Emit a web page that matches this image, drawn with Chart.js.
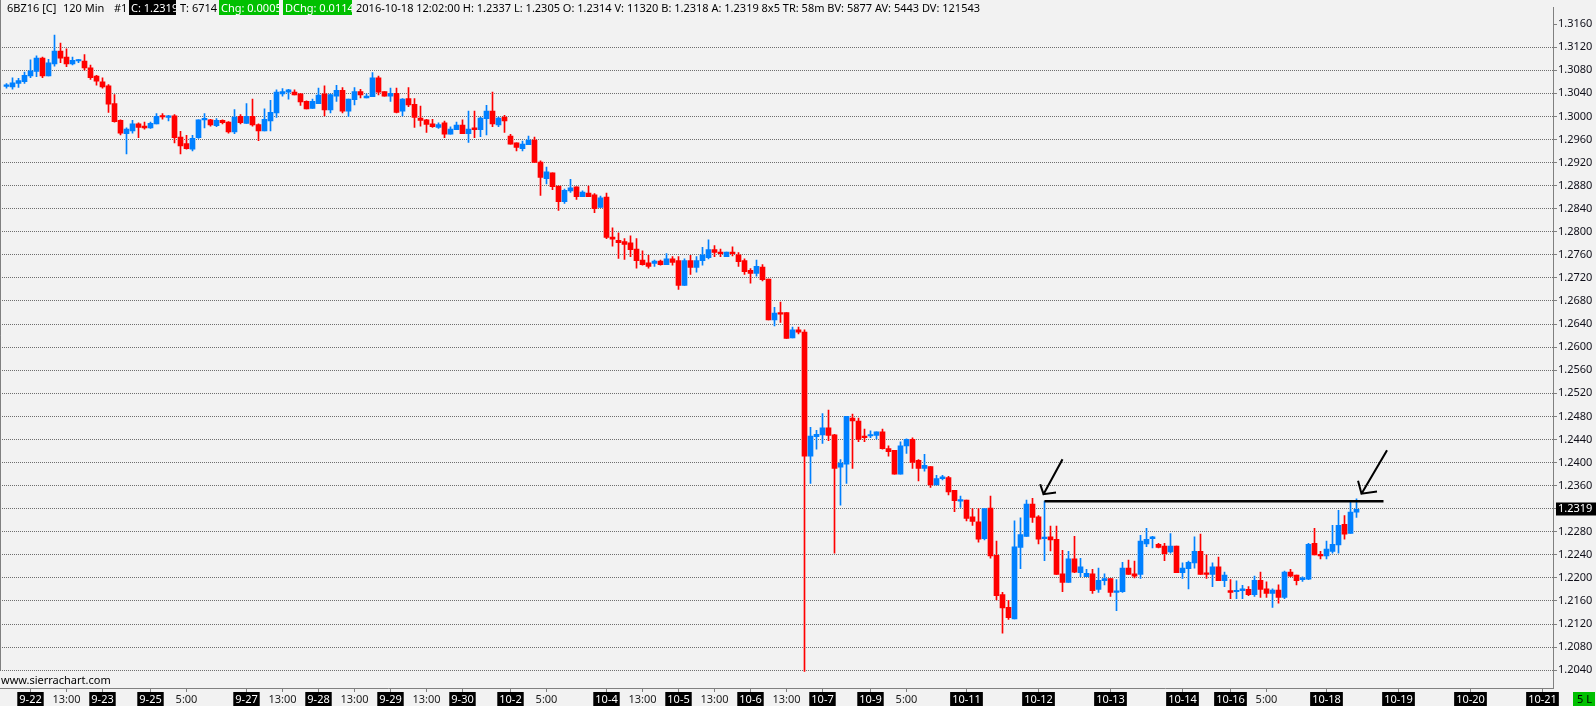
<!DOCTYPE html>
<html><head><meta charset="utf-8">
<script src="https://cdn.jsdelivr.net/npm/chart.js@4.4.1/dist/chart.umd.min.js"></script>
<style>html,body{margin:0;padding:0;background:#f2f2f2;overflow:hidden}canvas{display:block}</style>
</head><body>
<canvas id="c" width="1596" height="706"></canvas>
<script>
// ---- DATA (120 min bars, 6BZ16) ----
const openP = [1.3052,1.3051,1.3057,1.3060,1.3070,1.3078,1.3101,1.3070,1.3091,1.3113,1.3103,1.3091,1.3096,1.3096,1.3084,1.3070,1.3060,1.3053,1.3022,1.2993,
1.2970,1.2975,1.2987,1.2983,1.2980,1.2987,1.3000,1.2998,1.3001,1.2964,1.2953,1.2943,1.2963,1.2994,1.2994,1.2984,1.2993,1.2990,1.2973,1.3000,
1.2988,1.3000,1.2986,1.2975,1.2992,1.3006,1.3039,1.3042,1.3042,1.3039,1.3026,1.3014,1.3022,1.3039,1.3011,1.3035,1.3045,1.3009,1.3029,1.3043,
1.3032,1.3034,1.3067,1.3043,1.3035,1.3040,1.3009,1.3031,1.3021,1.2997,1.2994,1.2987,1.2981,1.2989,1.2969,1.2977,1.2985,1.2970,1.2980,1.2977,
1.2996,1.3009,1.2985,1.2999,1.2966,1.2954,1.2944,1.2951,1.2959,1.2921,1.2892,1.2902,1.2879,1.2852,1.2871,1.2878,1.2861,1.2867,1.2864,1.2842,
1.2860,1.2791,1.2785,1.2783,1.2781,1.2770,1.2751,1.2746,1.2745,1.2749,1.2743,1.2753,1.2750,1.2707,1.2750,1.2738,1.2750,1.2755,1.2769,1.2765,
1.2757,1.2765,1.2760,1.2750,1.2733,1.2728,1.2739,1.2718,1.2647,1.2660,1.2660,1.2616,1.2630,1.2626,1.2411,1.2445,1.2448,1.2460,1.2448,1.2392,
1.2397,1.2477,1.2472,1.2446,1.2446,1.2447,1.2453,1.2424,1.2421,1.2380,1.2429,1.2440,1.2404,1.2390,1.2393,1.2361,1.2372,1.2374,1.2352,1.2333,
1.2335,1.2306,1.2297,1.2268,1.2321,1.2239,1.2171,1.2149,1.2129,1.2253,1.2272,1.2328,1.2306,1.2268,1.2271,1.2267,1.2207,1.2192,1.2233,1.2209,
1.2202,1.2207,1.2180,1.2195,1.2199,1.2175,1.2176,1.2217,1.2207,1.2206,1.2259,1.2268,1.2258,1.2255,1.2245,1.2255,1.2209,1.2216,1.2226,1.2246,
1.2207,1.2206,1.2219,1.2195,1.2178,1.2176,1.2178,1.2180,1.2171,1.2196,1.2181,1.2173,1.2179,1.2166,1.2210,1.2205,1.2197,1.2198,1.2260,1.2241,
1.2238,1.2246,1.2257,1.2293,1.2277,1.2314];
const highP = [1.3057,1.3067,1.3066,1.3077,1.3098,1.3105,1.3103,1.3099,1.3141,1.3127,1.3117,1.3103,1.3099,1.3107,1.3089,1.3071,1.3067,1.3055,1.3038,1.2994,
1.2980,1.2993,1.2989,1.2990,1.2990,1.3005,1.3005,1.3002,1.3003,1.2974,1.2967,1.2967,1.2994,1.3005,1.2995,1.2996,1.2994,1.2991,1.3012,1.3003,
1.3022,1.3030,1.2987,1.3013,1.3028,1.3046,1.3048,1.3047,1.3046,1.3040,1.3027,1.3030,1.3049,1.3053,1.3039,1.3054,1.3050,1.3030,1.3050,1.3047,
1.3039,1.3076,1.3070,1.3043,1.3049,1.3049,1.3031,1.3050,1.3031,1.3018,1.2995,1.2995,1.2989,1.2992,1.2982,1.2990,1.2994,1.3009,1.3009,1.2999,
1.3019,1.3042,1.2999,1.3002,1.2969,1.2954,1.2957,1.2966,1.2964,1.2923,1.2912,1.2902,1.2879,1.2874,1.2891,1.2878,1.2871,1.2879,1.2866,1.2862,
1.2867,1.2807,1.2798,1.2788,1.2793,1.2788,1.2767,1.2759,1.2751,1.2751,1.2762,1.2757,1.2757,1.2753,1.2759,1.2757,1.2773,1.2786,1.2776,1.2770,
1.2765,1.2774,1.2764,1.2753,1.2736,1.2751,1.2743,1.2718,1.2669,1.2678,1.2660,1.2635,1.2635,1.2630,1.2461,1.2456,1.2485,1.2491,1.2449,1.2405,
1.2480,1.2484,1.2477,1.2458,1.2455,1.2453,1.2458,1.2429,1.2421,1.2436,1.2441,1.2443,1.2405,1.2414,1.2393,1.2378,1.2378,1.2376,1.2352,1.2342,
1.2335,1.2320,1.2320,1.2320,1.2342,1.2264,1.2175,1.2161,1.2299,1.2304,1.2335,1.2338,1.2308,1.2333,1.2290,1.2290,1.2248,1.2246,1.2272,1.2234,
1.2215,1.2215,1.2217,1.2207,1.2199,1.2197,1.2227,1.2231,1.2229,1.2274,1.2286,1.2272,1.2260,1.2260,1.2277,1.2255,1.2226,1.2229,1.2271,1.2276,
1.2240,1.2226,1.2236,1.2210,1.2197,1.2195,1.2187,1.2185,1.2203,1.2210,1.2193,1.2181,1.2188,1.2212,1.2215,1.2205,1.2202,1.2260,1.2286,1.2246,
1.2264,1.2291,1.2317,1.2308,1.2333,1.2337];
const lowP = [1.3049,1.3047,1.3050,1.3057,1.3067,1.3069,1.3067,1.3070,1.3087,1.3093,1.3086,1.3089,1.3093,1.3080,1.3064,1.3054,1.3049,1.3007,1.2990,1.2968,
1.2935,1.2971,1.2963,1.2978,1.2979,1.2987,1.2995,1.2992,1.2954,1.2935,1.2943,1.2940,1.2962,1.2980,1.2983,1.2982,1.2987,1.2971,1.2970,1.2987,
1.2988,1.2983,1.2958,1.2975,1.2975,1.2998,1.3035,1.3030,1.3037,1.3019,1.3013,1.3014,1.3022,1.3001,1.3006,1.3026,1.3006,1.3000,1.3020,1.3032,
1.3032,1.3034,1.3037,1.3035,1.3026,1.3006,1.3001,1.3017,1.2981,1.2983,1.2972,1.2981,1.2979,1.2963,1.2969,1.2977,1.2970,1.2955,1.2963,1.2965,
1.2968,1.2982,1.2982,1.2972,1.2952,1.2940,1.2940,1.2951,1.2920,1.2863,1.2883,1.2873,1.2837,1.2849,1.2868,1.2856,1.2861,1.2861,1.2833,1.2842,
1.2788,1.2775,1.2754,1.2752,1.2757,1.2737,1.2742,1.2737,1.2740,1.2742,1.2743,1.2742,1.2700,1.2707,1.2726,1.2730,1.2742,1.2753,1.2757,1.2757,
1.2757,1.2758,1.2740,1.2726,1.2711,1.2723,1.2715,1.2647,1.2637,1.2643,1.2615,1.2616,1.2623,1.2038,1.2364,1.2423,1.2433,1.2438,1.2243,1.2326,
1.2364,1.2390,1.2436,1.2436,1.2443,1.2441,1.2423,1.2411,1.2380,1.2380,1.2416,1.2390,1.2368,1.2385,1.2357,1.2361,1.2370,1.2344,1.2315,1.2322,
1.2299,1.2291,1.2262,1.2266,1.2234,1.2162,1.2104,1.2128,1.2129,1.2216,1.2272,1.2296,1.2259,1.2230,1.2247,1.2206,1.2176,1.2192,1.2209,1.2202,
1.2202,1.2173,1.2175,1.2188,1.2168,1.2143,1.2175,1.2206,1.2200,1.2199,1.2254,1.2252,1.2252,1.2230,1.2243,1.2209,1.2199,1.2181,1.2217,1.2206,
1.2199,1.2185,1.2195,1.2185,1.2164,1.2164,1.2164,1.2169,1.2168,1.2166,1.2166,1.2149,1.2156,1.2164,1.2202,1.2188,1.2194,1.2197,1.2240,1.2233,
1.2233,1.2243,1.2243,1.2267,1.2277,1.2305];
const closeP = [1.3053,1.3058,1.3062,1.3071,1.3079,1.3101,1.3070,1.3093,1.3113,1.3101,1.3091,1.3097,1.3097,1.3084,1.3067,1.3061,1.3051,1.3021,1.2991,1.2971,
1.2978,1.2987,1.2981,1.2980,1.2988,1.3000,1.2999,1.3001,1.2963,1.2949,1.2944,1.2962,1.2994,1.2996,1.2985,1.2993,1.2989,1.2973,1.2999,1.2989,
1.3000,1.2985,1.2975,1.2995,1.3007,1.3042,1.3043,1.3046,1.3037,1.3025,1.3013,1.3026,1.3037,1.3011,1.3038,1.3045,1.3009,1.3030,1.3043,1.3037,
1.3035,1.3067,1.3042,1.3035,1.3040,1.3007,1.3030,1.3020,1.2998,1.2993,1.2986,1.2982,1.2986,1.2969,1.2978,1.2985,1.2970,1.2978,1.2977,1.2997,
1.3009,1.2987,1.2997,1.2992,1.2952,1.2946,1.2952,1.2959,1.2920,1.2894,1.2904,1.2878,1.2852,1.2872,1.2876,1.2861,1.2869,1.2861,1.2840,1.2859,
1.2790,1.2787,1.2781,1.2778,1.2769,1.2750,1.2743,1.2740,1.2749,1.2743,1.2753,1.2747,1.2707,1.2750,1.2738,1.2750,1.2760,1.2769,1.2764,1.2762,
1.2765,1.2762,1.2748,1.2731,1.2728,1.2740,1.2717,1.2647,1.2659,1.2657,1.2615,1.2630,1.2626,1.2411,1.2446,1.2449,1.2460,1.2447,1.2390,1.2399,
1.2480,1.2472,1.2440,1.2443,1.2447,1.2453,1.2424,1.2419,1.2380,1.2429,1.2440,1.2400,1.2390,1.2395,1.2361,1.2372,1.2375,1.2349,1.2334,1.2335,
1.2303,1.2298,1.2267,1.2320,1.2238,1.2169,1.2148,1.2131,1.2254,1.2275,1.2328,1.2305,1.2267,1.2270,1.2266,1.2206,1.2192,1.2233,1.2210,1.2219,
1.2208,1.2178,1.2196,1.2199,1.2175,1.2177,1.2217,1.2206,1.2203,1.2264,1.2267,1.2271,1.2253,1.2242,1.2255,1.2209,1.2217,1.2227,1.2246,1.2206,
1.2206,1.2219,1.2195,1.2205,1.2175,1.2178,1.2181,1.2171,1.2196,1.2180,1.2173,1.2179,1.2166,1.2210,1.2203,1.2195,1.2200,1.2258,1.2240,1.2238,
1.2250,1.2258,1.2291,1.2276,1.2314,1.2319];

const xTickBars   = [5,11,17,25,31,41,47,53,59,65,71,77,85,91,101,107,113,119,125,131,137,145,151,161,173,185,197,205,211,221,233,245,257];
const xTickLabels = ['9-22','13:00','9-23','9-25','5:00','9-27','13:00','9-28','13:00','9-29','13:00','9-30','10-2','5:00','10-4','13:00','10-5','13:00','10-6','13:00','10-7','10-9','5:00','10-11','10-12','10-13','10-14','10-16','5:00','10-18','10-19','10-20','10-21'];
const yTickLabels = ['1.2040','1.2080','1.2120','1.2160','1.2200','1.2240','1.2280','1.2320','1.2360','1.2400','1.2440','1.2480','1.2520','1.2560','1.2600','1.2640','1.2680','1.2720','1.2760','1.2800','1.2840','1.2880','1.2920','1.2960','1.3000','1.3040','1.3080','1.3120','1.3160'];
const yTickValues = yTickLabels.map(Number);

const levelStartBar = 174, levelEndBar = 230, levelPrice = 1.2333;
const lastPrice = 1.2319;
const headerParts = {
  sym: '6BZ16 [C]', per: '120 Min', num: '#1', c: 'C: 1.2319', t: 'T: 6714', chg: 'Chg: 0.0005', dchg: 'DChg: 0.0114',
  rest: '2016-10-18 12:02:00 H: 1.2337 L: 1.2305 O: 1.2314 V: 11320 B: 1.2318 A: 1.2319 8x5 TR: 58m BV: 5877 AV: 5443 DV: 121543'
};

// ---- CHART ----
const UP = '#0080ff', DN = '#ff0000';
const colors = openP.map((o, i) => closeP[i] >= o ? UP : DN);
const FONT = "'Noto Sans', 'Open Sans', sans-serif";
Chart.defaults.font.family = FONT;
const isDate = i => (xTickLabels[i] || '').indexOf('-') >= 0;

const decor = {
  id: 'decor',
  beforeDraw(chart) {
    const ctx = chart.ctx;
    ctx.save();
    ctx.fillStyle = '#f2f2f2';
    ctx.fillRect(0, 0, chart.width, chart.height);
    ctx.restore();
  },
  afterDatasetsDraw(chart) {
    const ctx = chart.ctx, xs = chart.scales.x, ys = chart.scales.y;
    const x0 = xs.getPixelForValue(levelStartBar), x1 = xs.getPixelForValue(levelEndBar);
    const yl = ys.getPixelForValue(levelPrice);
    ctx.save();
    ctx.strokeStyle = '#000';
    ctx.lineWidth = 2.5;
    ctx.beginPath(); ctx.moveTo(x0, yl); ctx.lineTo(x1 + 3, yl); ctx.stroke();
    ctx.lineWidth = 2;
    ctx.lineCap = 'square';
    const arrow = (bx, pts) => {
      ctx.beginPath();
      ctx.moveTo(bx + pts[0][0], yl + pts[0][1]);
      ctx.lineTo(bx + pts[1][0], yl + pts[1][1]);
      ctx.moveTo(bx + pts[2][0], yl + pts[2][1]);
      ctx.lineTo(bx + pts[1][0], yl + pts[1][1]);
      ctx.lineTo(bx + pts[3][0], yl + pts[3][1]);
      ctx.stroke();
    };
    arrow(x0, [[17.5, -41], [-1, -7], [-4, -16], [10.5, -8.5]]);
    const xe = xs.getPixelForValue(226);
    arrow(xe, [[30, -50], [5, -7.5], [1.8, -19.5], [19.5, -9.5]]);
    ctx.restore();
  },
  afterDraw(chart) {
    const ctx = chart.ctx, ys = chart.scales.y, ca = chart.chartArea;
    ctx.save();
    // left frame line
    ctx.strokeStyle = '#808080'; ctx.lineWidth = 1;
    ctx.beginPath(); ctx.moveTo(0.5, 0); ctx.lineTo(0.5, ys.getPixelForValue(1.2040)); ctx.stroke();
    // header
    ctx.font = '11px ' + FONT;
    ctx.textBaseline = 'alphabetic';
    const txt = (s, x, col) => { ctx.fillStyle = col || '#000'; ctx.fillText(s, x, 12); };
    const box = (s, x, w, bg) => {
      ctx.save(); ctx.fillStyle = bg; ctx.fillRect(x, 0, w, 15);
      ctx.beginPath(); ctx.rect(x, 0, w, 15); ctx.clip();
      ctx.fillStyle = '#fff'; ctx.fillText(s, x + 2, 12); ctx.restore();
    };
    txt(headerParts.sym, 7); txt(headerParts.per, 63); txt(headerParts.num, 114);
    box(headerParts.c, 129, 47, '#000');
    txt(headerParts.t, 180);
    box(headerParts.chg, 219, 60, '#00c000');
    box(headerParts.dchg, 283, 69, '#00c000');
    txt(headerParts.rest, 356);
    // watermark
    ctx.fillStyle = '#000';
    ctx.fillText('www.sierrachart.com', 1, 684);
    // current price label
    const yp = ys.getPixelForValue(lastPrice);
    ctx.fillStyle = '#000';
    ctx.fillRect(ca.right + 3, Math.round(yp) - 6.5, 40, 13);
    ctx.fillStyle = '#fff';
    ctx.textBaseline = 'middle';
    ctx.fillText(lastPrice.toFixed(4), ca.right + 5, yp);
    // 5 L box
    ctx.fillStyle = '#00c000';
    ctx.fillRect(1573, 692, 22, 14);
    ctx.fillStyle = '#000';
    ctx.fillText('5 L', 1577, 699.5);
    ctx.restore();
  }
};

const bodyData = openP.map((o, i) => ({ x: i + 1, y: [o, closeP[i]] }));
const wickData = openP.map((o, i) => ({ x: i + 1, y: [lowP[i], highP[i]] }));

new Chart(document.getElementById('c'), {
  type: 'bar',
  data: {
    datasets: [
      { label: 'body', data: bodyData, backgroundColor: colors, borderWidth: 0, barThickness: 5, grouped: false, minBarLength: 1.5, order: 0 },
      { label: 'wick', data: wickData, backgroundColor: colors, borderWidth: 0, barThickness: 1, grouped: false, order: 1 }
    ]
  },
  options: {
    responsive: false,
    animation: false,
    devicePixelRatio: 1,
    layout: { padding: 0 },
    plugins: { legend: { display: false }, tooltip: { enabled: false } },
    scales: {
      x: {
        type: 'linear', position: 'bottom', offset: false,
        min: -0.5 / 6, max: (1553 - 0.5) / 6,
        afterFit: s => { s.height = 18; },
        afterBuildTicks: s => { s.ticks = xTickBars.map(v => ({ value: v })); },
        grid: { display: true, offset: false, drawOnChartArea: false, drawTicks: true, tickLength: 4, tickColor: '#808080' },
        border: { display: true, color: '#808080', width: 1 },
        ticks: {
          autoSkip: false, maxRotation: 0, minRotation: 0, padding: 1,
          font: { family: FONT, size: 11 },
          callback: (v, i) => xTickLabels[i],
          color: c => isDate(c.index) ? '#ffffff' : '#1a1a1a',
          showLabelBackdrop: c => isDate(c.index),
          backdropColor: c => isDate(c.index) ? '#000000' : 'rgba(0,0,0,0)',
          backdropPadding: { x: 2, y: 1 }
        }
      },
      y: {
        type: 'linear', position: 'right',
        min: 1.200917, max: 1.318857,
        afterFit: s => { s.width = 43; },
        afterBuildTicks: s => { s.ticks = yTickValues.map(v => ({ value: v })); },
        grid: {
          color: c => (c.tick && c.tick.value > 1.314) ? 'rgba(0,0,0,0)' : '#6e6e6e',
          lineWidth: 1, drawTicks: true, tickLength: 4, tickColor: '#808080'
        },
        border: { display: true, color: '#808080', width: 1, dash: [1, 1] },
        ticks: {
          autoSkip: false, padding: 1, color: '#10101a',
          font: { family: FONT, size: 11 },
          callback: (v, i) => yTickLabels[i]
        }
      }
    }
  },
  plugins: [decor]
});
</script>
</body></html>
